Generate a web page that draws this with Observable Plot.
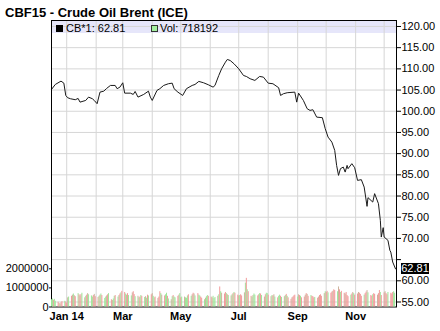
<!DOCTYPE html>
<html><head><meta charset="utf-8">
<script src="https://cdn.jsdelivr.net/npm/d3@7"></script>
<script src="https://cdn.jsdelivr.net/npm/@observablehq/plot@0.6"></script>
<style>
body{margin:0;background:#fff;font-family:"Liberation Sans",Arial,sans-serif;}
#wrap{position:relative;width:440px;height:331px;overflow:hidden;background:#fff;}
#wrap svg{position:absolute;left:0;top:0;}
.abs{position:absolute;}
#title{left:5px;top:6px;font-weight:bold;font-size:13px;line-height:13px;white-space:nowrap;color:#000;}
.leg{font-size:11px;line-height:11px;white-space:nowrap;color:#000;z-index:5;}
</style></head><body>
<div id="wrap">
  <div id="title" class="abs">CBF15 - Crude Oil Brent (ICE)</div>
  <div id="band" class="abs" style="left:51px;top:20px;width:345px;height:13px;background:#e6e6fa;z-index:0"></div>
</div>
<script>
// ---- data ----
const priceDates = ["2013-12-16","2013-12-20","2013-12-26","2013-12-29","2013-12-31","2014-01-02","2014-01-05","2014-01-10","2014-01-13","2014-01-15","2014-01-21","2014-01-24","2014-01-28","2014-01-30","2014-02-02","2014-02-05","2014-02-09","2014-02-12","2014-02-16","2014-02-21","2014-02-23","2014-02-26","2014-03-01","2014-03-03","2014-03-09","2014-03-12","2014-03-14","2014-03-17","2014-03-23","2014-03-28","2014-03-30","2014-04-01","2014-04-06","2014-04-09","2014-04-13","2014-04-18","2014-04-22","2014-04-24","2014-04-28","2014-05-03","2014-05-07","2014-05-13","2014-05-16","2014-05-20","2014-05-25","2014-05-30","2014-06-04","2014-06-06","2014-06-10","2014-06-13","2014-06-17","2014-06-19","2014-06-22","2014-06-26","2014-07-01","2014-07-06","2014-07-09","2014-07-13","2014-07-18","2014-07-23","2014-07-27","2014-08-01","2014-08-06","2014-08-12","2014-08-14","2014-08-17","2014-08-21","2014-08-29","2014-08-31","2014-09-02","2014-09-07","2014-09-11","2014-09-14","2014-09-17","2014-09-21","2014-09-27","2014-09-30","2014-10-03","2014-10-07","2014-10-10","2014-10-12","2014-10-14","2014-10-16","2014-10-19","2014-10-21","2014-10-23","2014-10-24","2014-10-28","2014-10-31","2014-11-03","2014-11-07","2014-11-10","2014-11-13","2014-11-14","2014-11-19","2014-11-21","2014-11-25","2014-11-27","2014-11-28","2014-11-30","2014-12-01","2014-12-05","2014-12-07","2014-12-08","2014-12-10","2014-12-13"];
const priceValues = [105.15,106.32,107.11,106.63,103.73,103.19,102.95,102.72,103.02,102.15,102.55,103.34,102.95,102.55,101.78,104.51,104.74,105.38,106.09,106.09,105.32,105.69,106.72,104.27,104.27,103.97,104.67,103.34,103.97,104.74,103.34,102.55,104.92,105.32,106.09,106.49,106.63,105.32,104.51,103.73,105.32,106.09,106.32,107.04,106.72,106.25,105.69,106.09,108.44,110.02,111.58,112.22,111.98,111.21,110.02,108.44,108.21,107.67,107.27,108.21,108.05,106.63,106.49,105.55,103.73,104.13,104.37,104.51,102.15,104.27,102.55,100.6,100.2,100.36,98.62,98.48,95.89,93.9,92.72,90.77,87.23,84.87,86.45,86.83,85.65,87.23,86.45,87.63,86.68,83.69,83.86,82.11,77.56,79.62,78.58,80.56,78.2,74.27,70.32,72.54,70.32,69.55,67.19,66.78,64.43,62.81];
// daily volume (thousands), weekdays from 2013-12-16 to 2014-12-12
const volumeK = [
 380,420,350,400,300, 250,180,150,220,280, 300,260,200,480,520, 560,620,680,590,540,
 700,640,580,650,720, 480,560,620,700,640, 580,520,600,660,540, 500,560,620,680,600,
 450,520,580,640,700, 380,340,420,560,600, 520,600,680,740,820, 760,680,620,700,600,
 580,740,800,650,540, 560,480,520,600,560, 500,540,460,620,580, 640,700,560,480,520,
 450,520,800,700,620, 580,640,720,560,420, 380,540,600,520,480, 560,620,700,480,520,
 520,480,460,580,640, 560,640,720,680,580, 700,620,580,520,460, 380,460,540,600,560,
 520,480,560,440,500, 560,640,1050,800,720, 680,760,700,640,600, 580,640,700,760,720,
 620,580,600,640,580, 740,1250,1500,900,800, 560,520,600,680,620, 580,640,700,680,600,
 520,640,720,700,620, 540,600,580,640,520, 480,560,620,560,500, 540,600,660,560,480,
 400,480,520,580,620, 520,640,600,560,480, 520,620,700,660,560, 600,560,540,480,500,
 460,520,600,640,560, 700,800,760,820,740, 720,780,820,900,860, 800,1050,900,760,820,
 720,680,760,600,540, 620,680,760,700,620, 680,760,720,660,560, 620,700,780,860,740,
 600,560,640,700,660, 620,700,860,760,600, 740,800,700,640,760, 720,680,760,800,718];
const volumeDir = "ggrggrrgrrgrrtgrtgtrgrtrgtgrtgggrtrrgtgrggtrgrtggrgtrgrrgtrggtrrgtgrgrgtgrgrtggrtrrgtrggrgtgrggrtgrgtgggrgtrtgrggrrgtggrtrgggtgrgtrrgrgtgrgrrtgrrtgrgrrgtggrtgrgtrggrtgrtgrggrgtgrgrrtrrrgtrgrrtrtrgrrrgrtrrrtgrrgrrtrrgtrgrrtrrrgrtgrrtrrrgrrtgrrgrrtrrgrrtrrgrrr";
const lastPrice = 62.81;
const lastVolume = 718192;
const priceTicks = [55,60,65,70,75,80,85,90,95,100,105,110,115,120];
const volumeTicks = [0,1000000,2000000];
const gridMonths = ["2014-01-01","2014-02-01","2014-03-01","2014-04-01","2014-05-01","2014-06-01","2014-07-01","2014-08-01","2014-09-01","2014-10-01","2014-11-01","2014-12-01"];
const labelMonths = ["2014-01-01","2014-03-01","2014-05-01","2014-07-01","2014-09-01","2014-11-01"];
const monthLabels = ["Jan 14","Mar","May","Jul","Sep","Nov"];

// ---- build tables ----
const price = priceDates.map((d,i)=>({date:new Date(d+"T00:00:00Z"), v:priceValues[i]}));
const days = d3.utcDays(new Date(Date.UTC(2013,11,16)), new Date(Date.UTC(2014,11,13))).filter(d=>d.getUTCDay()%6!==0);
const dirColor = {g:"#9ee699", r:"#f29a9a", t:"#cdb39c"};
const vol = volumeK.map((v,i)=>({date:days[i], v:v*1000, c:dirColor[volumeDir[i]] || "#9ee699"}));
const gm = gridMonths.map(d=>new Date(d+"T00:00:00Z"));
const lm = labelMonths.map(d=>new Date(d+"T00:00:00Z"));

const W=440,H=331;
const M={marginTop:20, marginBottom:24.5, marginLeft:51, marginRight:44};
const xDomain=[new Date(Date.UTC(2013,11,16)), new Date(Date.UTC(2014,11,14))];
const style={fontFamily:"Liberation Sans, Arial, sans-serif", fontSize:"11px", background:"transparent", overflow:"visible", color:"#000"};

const pricePlot = Plot.plot({
  width:W, height:H, ...M, style,
  x:{type:"utc", domain:xDomain, axis:null, label:null},
  y:{domain:[53.82,121.41], axis:null, label:null},
  marks:[
    Plot.ruleX(gm, {stroke:"#d6d6d6", strokeWidth:1}),
    Plot.ruleY(priceTicks, {stroke:"#d6d6d6", strokeWidth:1}),
    Plot.line(price, {x:"date", y:"v", stroke:"#1a1a1a", strokeWidth:1}),
    Plot.axisY(priceTicks, {anchor:"right", label:null, tickSize:4, tickPadding:1, tickFormat:d=> d===65 ? "" : d.toFixed(2), fontSize:11}),
    Plot.axisX(lm, {anchor:"bottom", label:null, tickSize:0, tickPadding:5.5, tickFormat:(d,i)=>monthLabels[i], fontSize:11, fontWeight:"bold"}),
    Plot.frame({stroke:"#000", strokeWidth:1})
  ]
});
pricePlot.style.zIndex=1;

const volPlot = Plot.plot({
  width:W, height:H, ...M, style,
  x:{type:"utc", domain:xDomain, axis:null, label:null},
  y:{domain:[0,15000000], axis:null, label:null},
  marks:[
    Plot.ruleX(vol, {x:"date", y1:0, y2:"v", stroke:"c", strokeWidth:1}),
    Plot.axisY(volumeTicks, {anchor:"left", label:null, tickSize:2, tickPadding:1, tickFormat:d=>String(d), fontSize:11})
  ]
});
volPlot.style.zIndex=2;

const wrap=document.getElementById("wrap");
wrap.appendChild(pricePlot);
wrap.appendChild(volPlot);

// legend
function add(html, css, cls){const e=document.createElement("div"); e.className="abs "+(cls||""); e.innerHTML=html; Object.assign(e.style, css); wrap.appendChild(e); return e;}
add("", {left:"56px", top:"25px", width:"7px", height:"7px", background:"#000", zIndex:5});
add("CB*1: "+lastPrice.toFixed(2), {left:"66px", top:"22.7px"}, "leg");
add("", {left:"151px", top:"25px", width:"5px", height:"5px", background:"#a3ee9e", border:"1px solid #333", zIndex:5});
add("Vol: "+lastVolume, {left:"160px", top:"22.7px"}, "leg");

// last price box on right axis
const yLast = pricePlot.scale("y").apply(lastPrice);
add(lastPrice.toFixed(2), {left:"401px", top:(yLast-5.5)+"px", width:"28px", height:"11px", background:"#000", color:"#fff", textAlign:"center", fontSize:"11px", lineHeight:"11px", zIndex:6});
</script>
</body></html>
